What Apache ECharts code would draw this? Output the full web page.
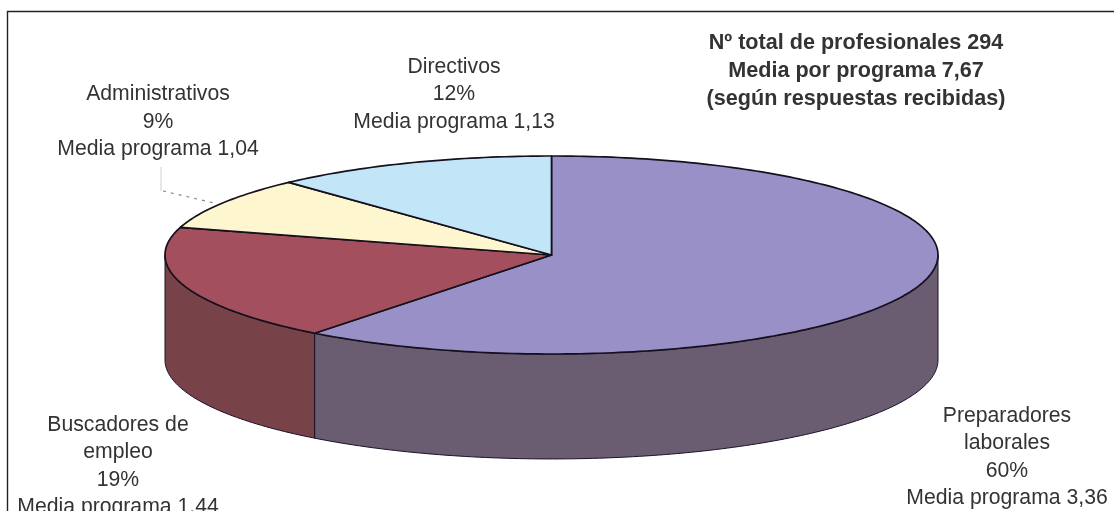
<!DOCTYPE html>
<html><head><meta charset="utf-8"><style>html,body{margin:0;background:#fff}#c{width:1114px;height:511px}</style>
<script src="https://cdn.jsdelivr.net/npm/echarts@6/dist/echarts.min.js"></script></head>
<body><div id="c"></div><script>
const categories = ['Preparadores laborales','Buscadores de empleo','Administrativos','Directivos'];
const shares = [60.5, 19.0, 8.6, 11.9];
const topColors = ['#9a90c8','#a34f5e','#fdf6cf','#c3e5f8'];
const sideColors = ['#6a5d72','#774248','#cfc9a8','#9fbccb'];
const labelLines = [
  ['Preparadores','laborales','60%','Media programa 3,36'],
  ['Buscadores de','empleo','19%','Media programa 1,44'],
  ['Administrativos','9%','Media programa 1,04'],
  ['Directivos','12%','Media programa 1,13']
];
const noteLines = ['Nº total de profesionales 294','Media por programa 7,67','(según respuestas recibidas)'];
const rimDepth = 1.06;
const total = shares.reduce((a,b)=>a+b,0);
const slices = []; let acc = 0;
shares.forEach((v,i)=>{ slices.push([acc/total*360,(acc+v)/total*360,i]); acc+=v; });
function pt(api,deg,drop){ const r=deg*Math.PI/180; return api.coord([Math.sin(r),Math.cos(r)-drop]); }
function arc(api,a,b,drop){ const out=[]; const n=Math.max(2,Math.ceil(Math.abs(b-a)));
  for(let k=0;k<=n;k++) out.push(pt(api,a+(b-a)*k/n,drop)); return out; }
function renderSide(params,api){
  const a=Math.max(api.value(0),90), b=Math.min(api.value(1),270), i=api.value(2);
  if(a>=b) return {type:'group',children:[]};
  const points=arc(api,a,b,0).concat(arc(api,b,a,rimDepth));
  return {type:'polygon',shape:{points},style:{fill:sideColors[i],stroke:'#1a1226',lineWidth:1}};
}
function renderTop(params,api){
  const a=api.value(0), b=api.value(1), i=api.value(2);
  const points=[api.coord([0,0])].concat(arc(api,a,b,0));
  return {type:'polygon',shape:{points},style:{fill:topColors[i],stroke:'#15101c',lineWidth:1.7,lineJoin:'round'}};
}
const textStyle={fill:'#333',fontFamily:'"Liberation Sans",Arial,sans-serif',fontSize:21.2,lineHeight:27.5,align:'center',verticalAlign:'middle'};
function block(lines,x,y,extra){ return {type:'text',x,y,z:10,style:Object.assign({},textStyle,extra||{},{text:lines.join('\n')})}; }
const chart=echarts.init(document.getElementById('c'),null,{renderer:'canvas'});
chart.setOption({
  animation:false,backgroundColor:'#fff',
  grid:{left:165,top:156,width:773,height:198},
  xAxis:{type:'value',min:-1,max:1,show:false},
  yAxis:{type:'value',min:-1,max:1,show:false},
  series:[
    {type:'custom',name:'lateral',coordinateSystem:'cartesian2d',clip:false,renderItem:renderSide,data:slices,z:2,silent:true},
    {type:'custom',name:'superficie',coordinateSystem:'cartesian2d',clip:false,renderItem:renderTop,data:slices,z:3,silent:true}
  ],
  graphic:[
    {type:'polyline',z:1,shape:{points:[[7.5,511],[7.5,11.5],[1114,11.5]]},style:{stroke:'#222',lineWidth:1.4,fill:null}},
    {type:'polyline',z:1,shape:{points:[[161,167],[161,191]]},style:{stroke:'#cfcfcf',lineWidth:1,fill:null}},
    {type:'polyline',z:1,shape:{points:[[163,191],[214,203]]},style:{stroke:'#888',lineWidth:1.2,lineDash:[3,5],fill:null}},
    block(labelLines[0],1007,457),
    block(labelLines[1],118,466),
    block(labelLines[2],158,122),
    block(labelLines[3],454,94.5),
    block(noteLines,856,71,{fontWeight:'bold',fontSize:21.6,lineHeight:28})
  ]
});
</script></body></html>
